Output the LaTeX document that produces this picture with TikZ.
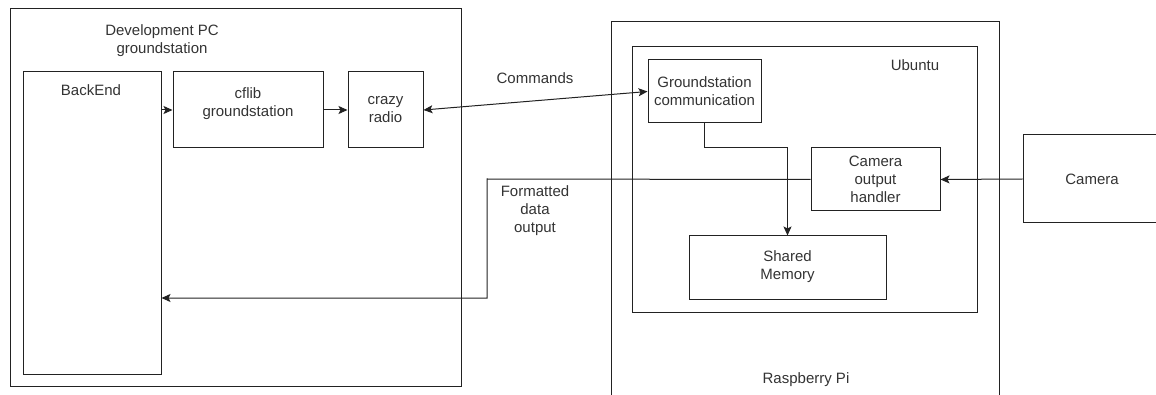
\documentclass[tikz,border=0pt]{standalone}
\usepackage{fontspec}
\setmainfont{Liberation Sans}
\usetikzlibrary{arrows.meta}
\definecolor{ln}{HTML}{222222}
\definecolor{tx}{HTML}{333333}
\tikzset{
  box/.style={draw=ln, line width=1pt, inner sep=0pt},
  lbl/.style={text=tx, font=\fontsize{15}{18}\selectfont, align=center, inner sep=0pt},
  conn/.style={draw=ln, line width=1pt},
  arr/.style={conn, -{Stealth[length=9pt,width=8pt,inset=2pt]}},
  barr/.style={conn, {Stealth[length=9pt,width=8pt,inset=2pt]}-{Stealth[length=9pt,width=8pt,inset=2pt]}},
}
\begin{document}
\begin{tikzpicture}[x=1pt,y=-1pt]
\useasboundingbox (0,0) rectangle (1156,395);
\begin{scope}
\clip (0,0) rectangle (1156,395);
% containers
\node[box, minimum width=451pt, minimum height=377pt] (dev) at (235.5,197.5) {};
\node[box, minimum width=388pt, minimum height=400pt] (rpi) at (611+194,22+200) {};
\node[box, minimum width=345pt, minimum height=265pt] (ubu) at (632+172.5,47+132.5) {};
% blocks
\node[box, minimum width=138pt, minimum height=302pt] (backend) at (92,223) {};
\node[box, minimum width=150pt, minimum height=76pt] (cflib) at (248,110) {};
\node[box, minimum width=75pt, minimum height=76pt] (radio) at (385.5,110) {};
\node[box, minimum width=113pt, minimum height=63pt] (gs) at (704.5,91.5) {};
\node[box, minimum width=129pt, minimum height=63pt] (coh) at (875.5,179.5) {};
\node[box, minimum width=197pt, minimum height=63pt] (shm) at (787.5,267.5) {};
\node[box, minimum width=160pt, minimum height=88pt] (cam) at (1103,179) {};
% labels
\node[lbl] (devlbl) at (162,41) {Development PC\\groundstation};
\node[lbl] (belbl) at (91,90) {BackEnd};
\node[lbl] (cflbl) at (248,104) {cflib\\groundstation};
\node[lbl] (rdlbl) at (385.5,110) {crazy\\radio};
\node[lbl] (gslbl) at (704.5,91) {Groundstation\\communication};
\node[lbl] (cohlbl) at (875.5,179) {Camera\\output\\handler};
\node[lbl] (shmlbl) at (787.5,267) {Shared\\Memory};
\node[lbl] (camlbl) at (1092,179) {Camera};
\node[lbl] (ubulbl) at (915,65) {Ubuntu};
\node[lbl] (rpilbl) at (806,380) {Raspberry Pi};
\node[lbl] (cmdlbl) at (535,78) {Commands};
\node[lbl] (fmtlbl) at (535,211) {Formatted\\data\\output};
% connectors
\draw[arr] (backend.east |- cflib.west) -- (cflib.west);
\draw[arr] (cflib.east) -- (radio.west);
\draw[barr] (radio.east) -- (gs.west);
\draw[arr] (cam.west) -- (coh.east);
\coordinate (t1) at (487,179);
\coordinate (t2) at (487,298);
\draw[arr] (coh.west) -- (t1) -- (t2) -- (t2 -| backend.east);
\coordinate (t3) at (704.5,148);
\draw[arr] (gs.south) -- (t3) -| (shm.north);
\end{scope}
\end{tikzpicture}
\end{document}
